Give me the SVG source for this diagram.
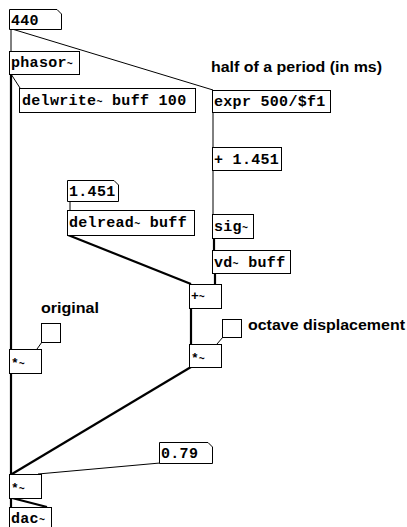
<svg xmlns="http://www.w3.org/2000/svg" width="407" height="527" viewBox="0 0 407 527">
<style>
.box{fill:#fff;stroke:#000;stroke-width:1}
.t{font-family:"Liberation Mono",monospace;font-weight:bold;font-size:15px;letter-spacing:0.3px;fill:#000}
.s{font-family:"Liberation Mono",monospace;font-weight:bold;font-size:13px;fill:#000}
.c{font-family:"Liberation Sans",Arial,sans-serif;font-weight:bold;font-size:15px;fill:#000}
.ctl{fill:none;stroke:#000;stroke-width:1}
.sig{fill:none;stroke:#000;stroke-width:2.2}
.tl{font-size:10px}
</style>
<rect width="407" height="527" fill="#fff"/>
<g id="connectors">
<path class="ctl" d="M11,29 V51"/>
<path class="ctl" d="M12,29 L213,90"/>
<path class="ctl" d="M11,74 L20,88"/>
<path class="sig" d="M11,74 V349"/>
<path class="ctl" d="M213,112 V147"/>
<path class="ctl" d="M213,170 V214"/>
<path class="sig" d="M214,238 V250"/>
<path class="sig" d="M215,273 V284"/>
<path class="ctl" d="M70,201 V210"/>
<path class="sig" d="M68,235 L191,284"/>
<path class="sig" d="M191,308 V344"/>
<path class="ctl" d="M223,337 L217,344"/>
<path class="ctl" d="M42,342 L37,349"/>
<path class="sig" d="M11,373 V474"/>
<path class="sig" d="M191,367 L12,474"/>
<path class="ctl" d="M160,463 L38,474"/>
<path class="sig" d="M11,498 V507"/>
<path class="sig" d="M12,498 L47,507"/>
</g>
<g id="n440"><path class="box" d="M9.5,9.5 H57 L61.5,14 V29.5 H9.5 Z"/><text class="t" x="11" y="25">440</text></g>
<g id="phasor"><rect class="box" x="9.5" y="51.5" width="70" height="23"/><text class="t" x="11" y="67">phasor<tspan class="tl">~</tspan></text></g>
<g id="delwrite"><rect class="box" x="19.5" y="88.5" width="176" height="24"/><text class="t" x="22" y="105">delwrite<tspan class="tl">~</tspan> buff 100</text></g>
<g id="comment-half"><text class="c" x="211" y="72" textLength="171" lengthAdjust="spacingAndGlyphs">half of a period (in ms)</text></g>
<g id="expr"><rect class="box" x="212.5" y="90.5" width="118" height="22"/><text class="t" x="214" y="106">expr 500/$f1</text></g>
<g id="plus1451"><rect class="box" x="212.5" y="147.5" width="69" height="23"/><text class="t" x="214" y="164">+ 1.451</text></g>
<g id="n1451"><path class="box" d="M67.5,180.5 H114 L118.5,185 V201.5 H67.5 Z"/><text class="t" x="69" y="196">1.451</text></g>
<g id="delread"><rect class="box" x="67.5" y="210.5" width="127" height="25"/><text class="t" x="69" y="227">delread<tspan class="tl">~</tspan> buff</text></g>
<g id="sig"><rect class="box" x="212.5" y="214.5" width="41" height="24"/><text class="t" x="214" y="231">sig<tspan class="tl">~</tspan></text></g>
<g id="vd"><rect class="box" x="212.5" y="250.5" width="78" height="23"/><text class="t" x="214" y="267">vd<tspan class="tl">~</tspan> buff</text></g>
<g id="addsig"><rect class="box" x="189.5" y="284.5" width="32" height="24"/><text class="s" x="191" y="300">+<tspan class="tl">~</tspan></text></g>
<g id="toggle-octave"><rect class="box" x="222.5" y="319.5" width="19" height="18"/></g>
<g id="comment-octave"><text class="c" x="248" y="330" textLength="157" lengthAdjust="spacingAndGlyphs">octave displacement</text></g>
<g id="mul-right"><rect class="box" x="189.5" y="344.5" width="32" height="23"/><text class="s" x="191" y="362">*<tspan class="tl">~</tspan></text></g>
<g id="comment-original"><text class="c" x="41" y="313" textLength="58" lengthAdjust="spacingAndGlyphs">original</text></g>
<g id="toggle-original"><rect class="box" x="41.5" y="323.5" width="19" height="19"/></g>
<g id="mul-left"><rect class="box" x="9.5" y="349.5" width="32" height="24"/><text class="s" x="11" y="367">*<tspan class="tl">~</tspan></text></g>
<g id="n079"><path class="box" d="M159.5,442.5 H208 L212.5,447 V463.5 H159.5 Z"/><text class="t" x="161" y="458">0.79</text></g>
<g id="mul-bottom"><rect class="box" x="9.5" y="474.5" width="32" height="24"/><text class="s" x="11" y="492">*<tspan class="tl">~</tspan></text></g>
<g id="dac"><rect class="box" x="9.5" y="507.5" width="42" height="21"/><text class="t" x="11" y="523">dac<tspan class="tl">~</tspan></text></g>
</svg>
